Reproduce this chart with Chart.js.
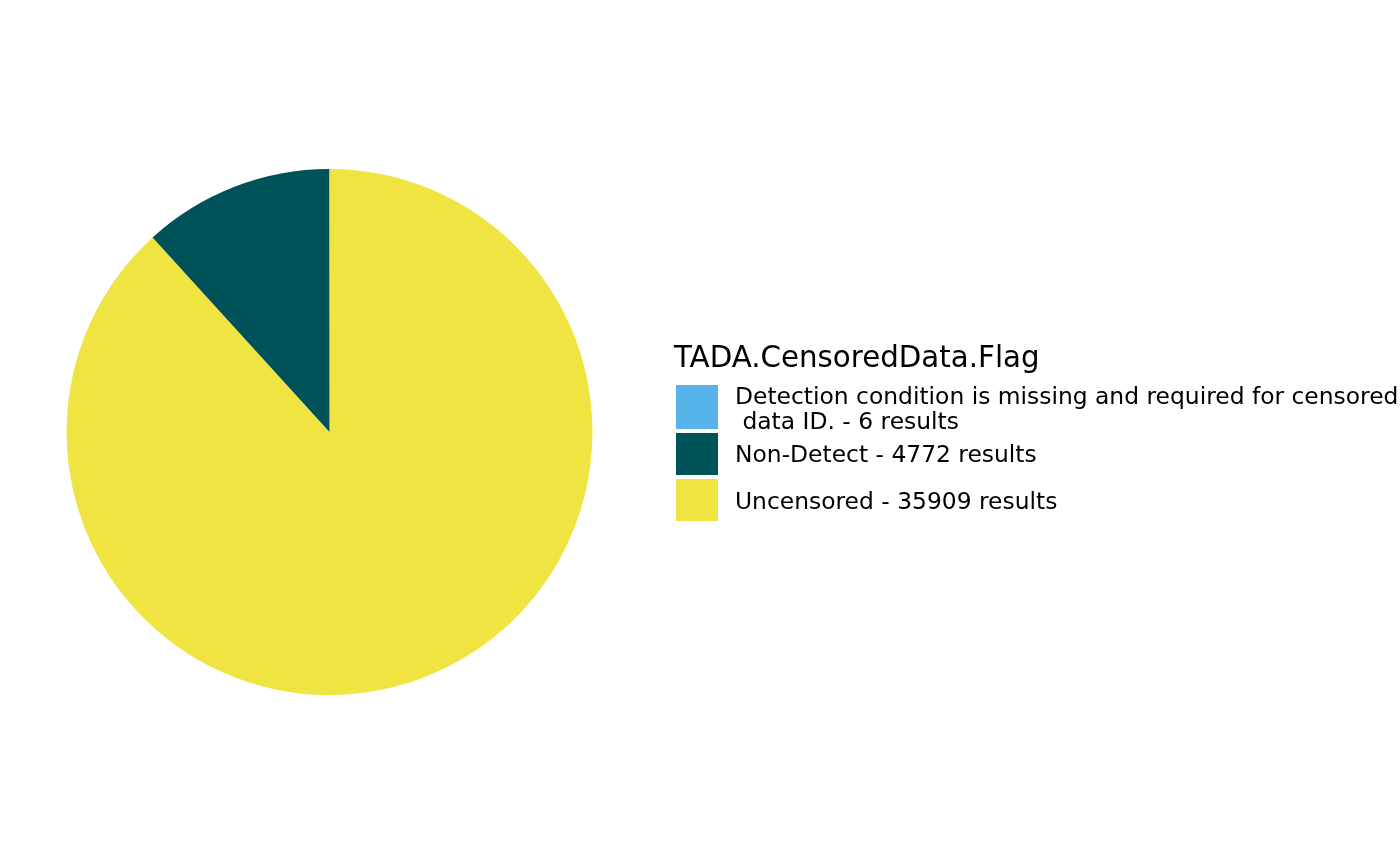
<!DOCTYPE html>
<html>
<head>
<meta charset="utf-8">
<script src="https://cdn.jsdelivr.net/npm/chart.js@4/dist/chart.umd.min.js"></script>
<style>
html,body{margin:0;padding:0;background:#fff;}
#wrap{width:1400px;height:865px;}
</style>
</head>
<body>
<div id="wrap"><canvas id="c" width="1400" height="865"></canvas></div>
<script>
// Data (pie order: clockwise from 12 o'clock)
const categories = ["Uncensored", "Non-Detect", "Detection condition is missing and required for censored data ID."];
const counts = [35909, 4772, 6];
const colors = ["#F0E442", "#005259", "#56B4E9"];
// Legend order (top to bottom)
const legendTitle = "TADA.CensoredData.Flag";
const legendOrder = [2, 1, 0];
const legendLines = [
  ["Detection condition is missing and required for censored", " data ID. - 6 results"],
  ["Non-Detect - 4772 results"],
  ["Uncensored - 35909 results"]
];

const legendPlugin = {
  id: 'customLegend',
  afterDraw(chart) {
    const ctx = chart.ctx;
    ctx.save();
    ctx.fillStyle = '#000';
    ctx.textBaseline = 'middle';
    ctx.textAlign = 'left';
    ctx.font = '29.3px "DejaVu Sans"';
    ctx.fillText(legendTitle, 674, 359);
    const boxes = [[385, 44], [433, 42], [479, 42]];
    const textY = [[398, 423], [456], [503]];
    ctx.font = '23.4px "DejaVu Sans"';
    legendOrder.forEach((idx, i) => {
      ctx.fillStyle = colors[idx];
      ctx.fillRect(676, boxes[i][0], 42, boxes[i][1]);
      ctx.fillStyle = '#000';
      legendLines[i].forEach((ln, j) => ctx.fillText(ln, 735, textY[i][j]));
    });
    ctx.restore();
  }
};

new Chart(document.getElementById('c'), {
  type: 'pie',
  data: {
    labels: categories,
    datasets: [{
      data: counts,
      backgroundColor: colors,
      borderWidth: 0
    }]
  },
  options: {
    responsive: false,
    animation: false,
    layout: { padding: { left: 66, right: 807, top: 169, bottom: 170 } },
    plugins: { legend: { display: false }, tooltip: { enabled: false } }
  },
  plugins: [legendPlugin]
});
</script>
</body>
</html>
